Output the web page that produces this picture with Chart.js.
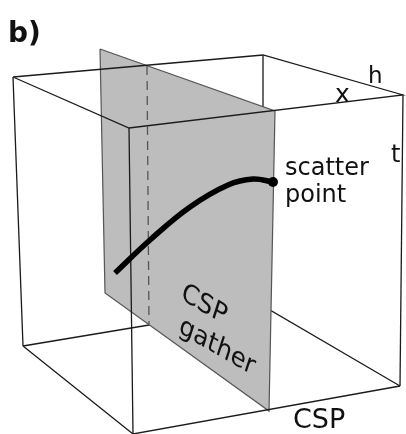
<!DOCTYPE html>
<html>
<head>
<meta charset="utf-8">
<script src="https://cdn.jsdelivr.net/npm/chart.js@4/dist/chart.umd.min.js"></script>
<style>
    body { margin: 0; background: #fff; }
    #wrap { width: 406px; height: 434px; }
</style>
</head>
<body>
<div id="wrap"><canvas id="cspChart" width="406" height="434"></canvas></div>
<script>
// corners of the data cube (x, y in picture units)
const topFace = [[13, 77], [263, 55], [403, 95], [129, 128], [13, 77]];
const backVertical = [[263, 55], [263, 306]];
const bottomBack = [[23, 346], [263, 306], [400, 386]];
const bottomFront = [[23, 346], [133, 434], [400, 386]];
const leftVertical = [[13, 77], [23, 346]];
const frontVertical = [[129, 128], [133, 434]];
const rightVertical = [[403, 95], [400, 386]];

// the CSP gather plane and its zero offset trace
const gatherPlane = [[100, 49], [275, 111], [269, 411], [105, 293], [100, 49]];
const zeroOffset = [[147, 66], [149, 324]];

// reflection hyperbola ending at the scatter point
const moveoutCurve = [[115, 273], [150, 240], [190, 207], [228, 185], [253, 179], [273, 182]];
const scatterPoint = [[273, 182]];

const toXY = arr => arr.map(p => ({ x: p[0], y: p[1] }));

function edge(data, order, extra) {
    return Object.assign({
        data: toXY(data),
        showLine: true,
        borderColor: '#1b1b1b',
        borderWidth: 1.3,
        pointRadius: 0,
        fill: false,
        tension: 0,
        clip: false,
        order: order
    }, extra || {});
}

const labelPlugin = {
    id: 'labels',
    afterDatasetsDraw(chart) {
        const ctx = chart.ctx;
        const sx = chart.scales.x, sy = chart.scales.y;
        const put = (text, x, y, font, skew) => {
            ctx.save();
            const px = sx.getPixelForValue(x), py = sy.getPixelForValue(y);
            if (skew) {
                // text lying in the gather plane
                ctx.transform(0.866, 0.5, -0.31, 0.95, px, py);
                ctx.textAlign = 'center';
                ctx.textBaseline = 'middle';
            } else {
                ctx.translate(px, py);
                ctx.textAlign = 'left';
                ctx.textBaseline = 'alphabetic';
            }
            ctx.font = font;
            ctx.fillStyle = '#111';
            ctx.fillText(text, 0, 0);
            ctx.restore();
        };
        put('b)', 8, 42, 'bold 28px "DejaVu Sans"');
        put('h', 368, 83, '23px "DejaVu Sans"');
        put('x', 335, 102, '25px "DejaVu Sans"');
        put('t', 391, 162, '24px "DejaVu Sans"');
        put('scatter', 285, 175, '24px "DejaVu Sans"');
        put('point', 285, 202, '24px "DejaVu Sans"');
        put('CSP', 293, 428, '27px "DejaVu Sans"');
        put('CSP', 204, 305, '26px "DejaVu Sans"', true);
        put('gather', 217, 347, '26px "DejaVu Sans"', true);
    }
};

const ctx = document.getElementById('cspChart').getContext('2d');
const chart = new Chart(ctx, {
    type: 'scatter',
    data: {
        datasets: [
            edge(scatterPoint, 0, { showLine: false, pointRadius: 5, pointBackgroundColor: '#000', pointBorderWidth: 0 }),
            edge(moveoutCurve, 1, { borderColor: '#000', borderWidth: 5.5, tension: 0.4, borderCapStyle: 'butt' }),
            edge(zeroOffset, 2, { borderColor: '#555', borderDash: [9, 6] }),
            edge(topFace, 3),
            edge(frontVertical, 3),
            edge(leftVertical, 3),
            edge(rightVertical, 3),
            edge(bottomFront, 3),
            edge(gatherPlane, 5, { borderColor: '#555', borderWidth: 1.2, backgroundColor: '#bdbdbd', fill: 'shape' }),
            edge(backVertical, 6),
            edge(bottomBack, 6)
        ]
    },
    options: {
        responsive: false,
        animation: false,
        layout: { padding: 0, autoPadding: false },
        plugins: {
            legend: { display: false },
            tooltip: { enabled: false }
        },
        scales: {
            x: { type: 'linear', min: 0, max: 406, display: false },
            y: { type: 'linear', min: 0, max: 434, reverse: true, display: false }
        }
    },
    plugins: [labelPlugin]
});
</script>
</body>
</html>
